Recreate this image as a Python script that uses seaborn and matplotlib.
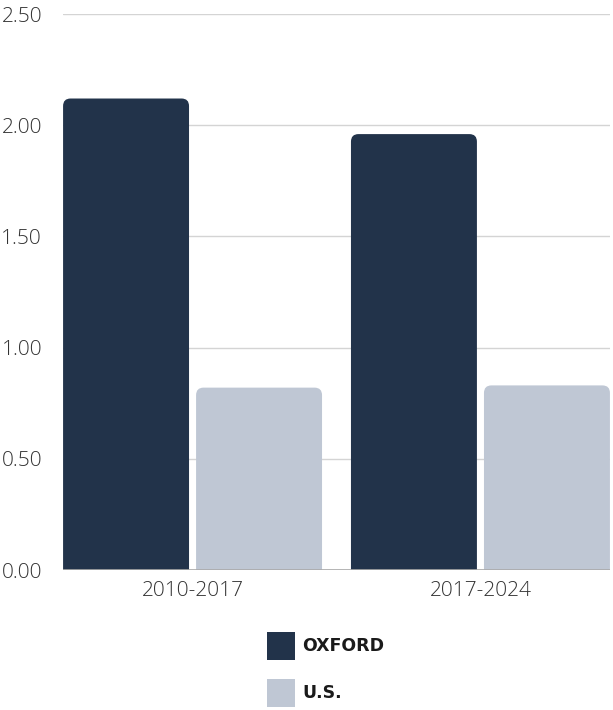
import pandas as pd
import seaborn as sns
from matplotlib import pyplot as plt
from matplotlib.patches import Rectangle, Patch, PathPatch
from matplotlib.path import Path

periods = ["2010-2017", "2017-2024"]
oxford = [2.12, 1.96]
us = [0.82, 0.83]
groups = ["OXFORD", "U.S."]
colors = ["#22334A", "#BFC7D4"]
yticks = [0.0, 0.5, 1.0, 1.5, 2.0, 2.5]

df = pd.DataFrame({
    "period": periods * 2,
    "value": oxford + us,
    "group": [groups[0]] * len(periods) + [groups[1]] * len(periods),
})

sns.set_style("white")
plt.rcParams['font.family'] = ['Open Sans', 'DejaVu Sans']

fig = plt.figure(figsize=(6.13, 7.10), dpi=100)
ax = fig.add_axes([63 / 613, 140 / 710, 547 / 613, 556 / 710])

sns.barplot(data=df, x="period", y="value", hue="group", palette=colors,
            saturation=1, width=0.924, gap=0.053, ax=ax, legend=False, zorder=3)

ax.set_xlim(-0.45, 1.45)
ax.set_ylim(0, 2.5)


def top_rounded(x0, y0, w, h, rx, ry):
    x1, y1 = x0 + w, y0 + h
    verts = [(x0, y0), (x0, y1 - ry), (x0, y1), (x0 + rx, y1),
             (x1 - rx, y1), (x1, y1), (x1, y1 - ry), (x1, y0), (x0, y0)]
    codes = [Path.MOVETO, Path.LINETO, Path.CURVE3, Path.CURVE3,
             Path.LINETO, Path.CURVE3, Path.CURVE3, Path.LINETO, Path.CLOSEPOLY]
    return Path(verts, codes)


# swap plain bars for ones with rounded tops
rx, ry = 0.026, 0.034
bars = [p for p in ax.patches if isinstance(p, Rectangle)]
for p in bars:
    c = p.get_facecolor()
    path = top_rounded(p.get_x(), p.get_y(), p.get_width(), p.get_height(), rx, ry)
    p.remove()
    ax.add_patch(PathPatch(path, facecolor=c, edgecolor="none", zorder=3))

ax.set_yticks(yticks)
ax.set_yticklabels([f"{v:.2f}" for v in yticks])
ax.yaxis.grid(True, color="#d4d4d4", linewidth=1, zorder=0)
ax.axhline(0, color="#aaaaaa", linewidth=1.2, zorder=4)
sns.despine(ax=ax, left=True, bottom=True, top=True, right=True)
ax.tick_params(axis="both", length=0, labelsize=15, labelcolor="#333333")
ax.tick_params(axis="y", pad=15)
ax.tick_params(axis="x", pad=8)
for lbl in ax.get_yticklabels() + ax.get_xticklabels():
    lbl.set_fontweight("light")
ax.set_xlabel("")
ax.set_ylabel("")

handles = [Patch(facecolor=c, edgecolor="none") for c in colors]
fig.legend(handles, groups, loc="upper left", bbox_to_anchor=(267 / 613, 1 - 632 / 710),
           frameon=False, borderpad=0, borderaxespad=0,
           handlelength=1.6, handleheight=2.07, handletextpad=0.45,
           labelspacing=1.12, labelcolor="#1a1a1a",
           prop={"family": "DejaVu Sans", "weight": "bold", "size": 12.5})

fig.savefig("out.png", dpi=100)
